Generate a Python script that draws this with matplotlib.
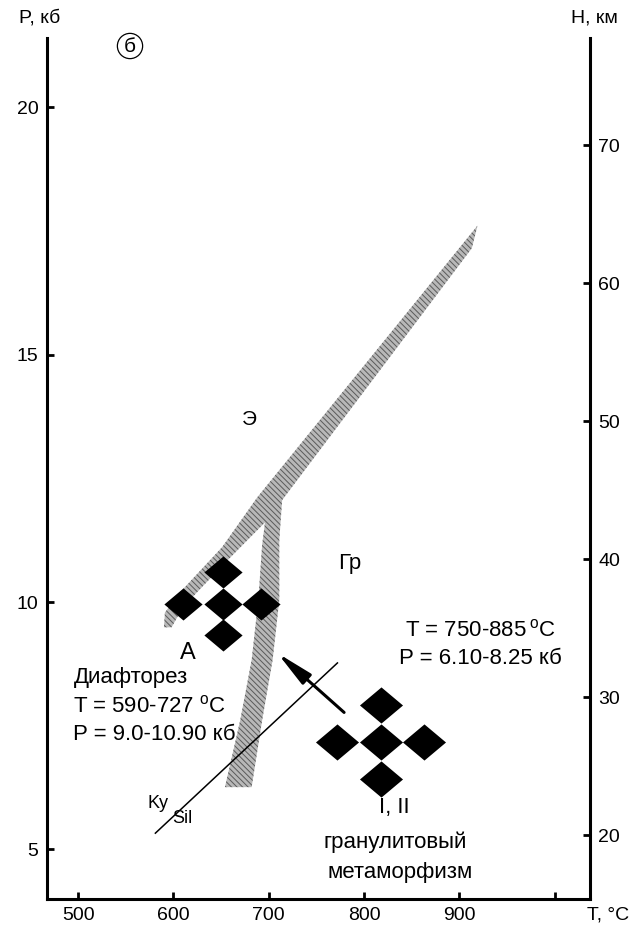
import numpy as np
import matplotlib
matplotlib.use("Agg")
import matplotlib.pyplot as plt
from matplotlib.path import Path
from matplotlib.patches import Polygon, FancyArrowPatch

plt.rcParams['font.family'] = ['Liberation Sans', 'DejaVu Sans']
plt.rcParams['mathtext.fontset'] = 'custom'
plt.rcParams['mathtext.rm'] = 'Liberation Sans'
plt.rcParams['hatch.linewidth'] = 0.7

# outline of the hatched reaction band (T, P)
band_T = [919, 688, 651, 607, 591, 590, 598, 610, 657, 696,
          693, 689, 682, 670, 654, 682, 693, 704, 711, 711, 714, 913]
band_P = [17.61, 12.12, 11.11, 10.20, 9.79, 9.49, 9.49, 9.90, 10.85, 11.61,
          11.15, 10.04, 8.83, 7.61, 6.26, 6.26, 7.61, 8.83, 10.04, 11.25, 12.06, 17.15]

# diamond clusters
diaA_T = [652, 610, 652, 692, 652]
diaA_P = [10.61, 9.97, 9.97, 9.97, 9.33]
diaB_T = [818, 772, 818, 863, 818]
diaB_P = [7.92, 7.17, 7.17, 7.17, 6.43]

# Ky/Sil boundary and arrow
kysil_T = [581, 772]
kysil_P = [5.33, 8.77]
arrow_from = (779, 7.77)
arrow_to = (709, 8.97)

x_ticks = [500, 600, 700, 800, 900, 1000]
x_labels = ['500', '600', '700', '800', '900', '']
p_ticks = [5, 10, 15, 20]
h_ticks = [20, 30, 40, 50, 60, 70]


def p2h(p):
    return 20 + 3.587 * (np.asarray(p) - 5.289)


def h2p(h):
    return 5.289 + (np.asarray(h) - 20) / 3.587


fig = plt.figure(figsize=(6.34, 9.31), dpi=100)
ax = fig.add_axes([0.0737, 0.0344, 0.8569, 0.9248])
ax.set_xlim(467, 1037)
ax.set_ylim(4.0, 21.4)

band = Polygon(np.column_stack([band_T, band_P]), closed=True,
               facecolor='#b8b8b8', edgecolor='#5a5a5a', hatch='\\\\\\\\\\\\', lw=0)
ax.add_patch(band)

verts = [(-1, 0), (0, 0.84), (1, 0), (0, -0.84), (-1, 0)]
diamond = Path(verts, [Path.MOVETO, Path.LINETO, Path.LINETO, Path.LINETO, Path.CLOSEPOLY])
ax.plot(diaA_T, diaA_P, ls='none', marker=diamond, ms=27.5, color='black', mew=0)
ax.plot(diaB_T, diaB_P, ls='none', marker=diamond, ms=31, color='black', mew=0)

ax.plot(kysil_T, kysil_P, color='black', lw=1.1)
ax.add_patch(FancyArrowPatch(arrow_from, arrow_to,
                             arrowstyle='-|>,head_length=1.1,head_width=0.2',
                             mutation_scale=20, lw=2.2, color='black',
                             shrinkA=0, shrinkB=0))

ax.text(584, 5.93, 'Ky', fontsize=13, ha='center', va='center')
ax.text(609, 5.63, 'Sil', fontsize=13, ha='center', va='center')
ax.text(680, 13.68, 'Э', fontsize=15, ha='center', va='center')
ax.text(785, 10.78, 'Гр', fontsize=16, ha='center', va='center')
ax.text(615, 8.98, 'A', fontsize=17, ha='center', va='center')

ax.text(495, 8.47, 'Диафторез', fontsize=16, ha='left', va='center')
ax.text(495, 7.90, r'T = 590-727 $^{\mathrm{o}}$C', fontsize=16, ha='left', va='center')
ax.text(495, 7.32, 'P = 9.0-10.90 кб', fontsize=16, ha='left', va='center')

ax.text(922, 9.43, r'T = 750-885$\,^{\mathrm{o}}$C', fontsize=16, ha='center', va='center')
ax.text(922, 8.86, 'P = 6.10-8.25 кб', fontsize=16, ha='center', va='center')

ax.text(832, 5.85, 'I, II', fontsize=16, ha='center', va='center')
ax.text(833, 5.15, 'гранулитовый', fontsize=16, ha='center', va='center')
ax.text(838, 4.54, 'метаморфизм', fontsize=16, ha='center', va='center')

ax.set_xticks(x_ticks)
ax.set_xticklabels(x_labels)
ax.set_yticks(p_ticks)
ax.tick_params(direction='in', length=5, width=2, labelsize=14, pad=6)

for side in ['top', 'right']:
    ax.spines[side].set_visible(False)
for side in ['left', 'bottom']:
    ax.spines[side].set_linewidth(2.2)

sec = ax.secondary_yaxis('right', functions=(p2h, h2p))
sec.set_yticks(h_ticks)
sec.tick_params(direction='in', length=5, width=2, labelsize=14, pad=6)
sec.spines['right'].set_linewidth(2.2)

fig.text(40 / 634, 1 - 18 / 931, 'P, кб', fontsize=14, ha='center', va='center')
fig.text(594 / 634, 1 - 18 / 931, 'H, км', fontsize=14, ha='center', va='center')
fig.text(608 / 634, 1 - 915 / 931, 'T, °C', fontsize=14, ha='center', va='center')
fig.text(130 / 634, 1 - 46 / 931, 'б', fontsize=15, ha='center', va='center',
         bbox=dict(boxstyle='circle,pad=0.15', fc='white', ec='black', lw=0.9))

fig.savefig('out.png', dpi=100)
